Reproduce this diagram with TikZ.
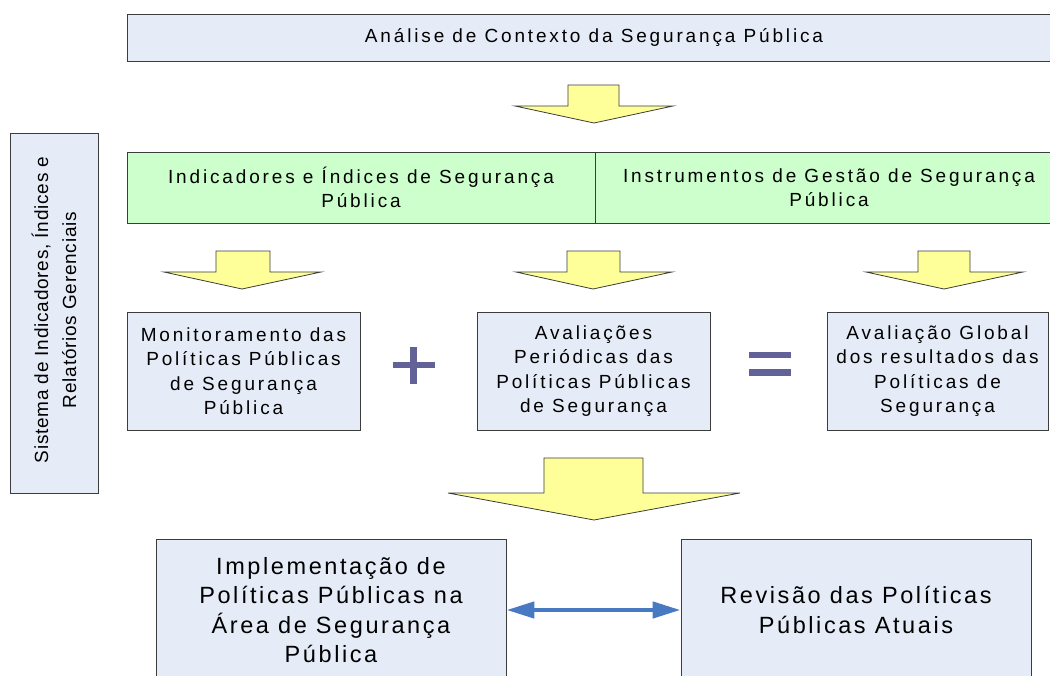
\documentclass[tikz,border=0pt]{standalone}
\usepackage{fontspec}
\setmainfont{Liberation Sans}
\newfontfamily\fa{Liberation Sans}[LetterSpace=15]
\newfontfamily\fb{Liberation Sans}[LetterSpace=11]
\newfontfamily\fc{Liberation Sans}[LetterSpace=4]
\usetikzlibrary{arrows.meta}
\definecolor{boxfill}{RGB}{230,236,247}
\definecolor{greenfill}{RGB}{204,255,204}
\definecolor{arrowfill}{RGB}{255,255,153}
\definecolor{edgecol}{RGB}{60,60,60}
\definecolor{mathcol}{RGB}{98,98,152}
\definecolor{linkcol}{RGB}{72,122,196}
\tikzset{
  box/.style={draw=edgecol, line width=0.9pt, fill=boxfill, inner sep=0pt, align=center},
  greenbox/.style={box, fill=greenfill},
  txtmid/.style={font=\fa\fontsize{19}{24.5}\selectfont},
  txtbig/.style={font=\fb\fontsize{23.5}{29.5}\selectfont},
  txtside/.style={font=\fc\fontsize{19}{28}\selectfont},
  blockarrow/.style={draw=edgecol, line width=0.8pt, fill=arrowfill, line join=miter},
  mathsign/.style={fill=mathcol},
  link/.style={draw=linkcol, line width=4.5pt, {Triangle[length=28pt,width=16pt]}-{Triangle[length=28pt,width=16pt]}}
}
\begin{document}
\begin{tikzpicture}[x=1pt,y=-1pt]
\useasboundingbox (0,0) rectangle (1050,675);
\clip (0,0) rectangle (1050,675);

% top context box
\node[box, txtmid, minimum width=934pt, minimum height=47pt] (ctx) at (594,37.5)
  {Análise de Contexto da Segurança Pública};

% first arrow
\path[blockarrow] (568,85) -- (619,85) -- (619,106) -- (673,106) -- (594,123) -- (515,106) -- (568,106) -- cycle;

% green band
\node[greenbox, txtmid, minimum width=468pt, minimum height=71pt] (ind) at (361,187.5)
  {Indicadores e Índices de Segurança\\Pública};
\node[greenbox, txtmid, minimum width=468pt, minimum height=71pt] (ins) at (829,187.5)
  {Instrumentos de Gestão de Segurança\\Pública};

% left vertical box
\node[box, minimum width=88pt, minimum height=360pt] (side) at (54,313) {};
\node[txtside, rotate=90, align=center] (sidetxt) at (54,310)
  {Sistema de Indicadores, Índices e\\Relatórios Gerenciais};

% row 2 arrows
\path[blockarrow] (216,251) -- (270,251) -- (270,272) -- (321,272) -- (242,289) -- (164,272) -- (216,272) -- cycle;
\path[blockarrow] (567,251) -- (620,251) -- (620,272) -- (672,272) -- (593,289) -- (516,272) -- (567,272) -- cycle;
\path[blockarrow] (918,251) -- (970,251) -- (970,272) -- (1023,272) -- (944,289) -- (866,272) -- (918,272) -- cycle;

% row 3 boxes
\node[box, txtmid, minimum width=233pt, minimum height=118pt] (mon) at (243.5,371)
  {Monitoramento das\\Políticas Públicas\\de Segurança\\Pública};
\node[box, txtmid, minimum width=233pt, minimum height=118pt] (ava) at (593.5,371)
  {Avaliações\\Periódicas das\\Políticas Públicas\\de Segurança};
\node[box, txtmid, minimum width=221pt, minimum height=118pt] (glo) at (937.5,371)
  {Avaliação Global\\dos resultados das\\Políticas de\\Segurança};

% plus and equal signs
\fill[mathsign] (393,362) rectangle (435,368);
\fill[mathsign] (410,347) rectangle (417,384);
\fill[mathsign] (749,352) rectangle (791,358);
\fill[mathsign] (749,369) rectangle (791,376);

% big arrow
\path[blockarrow] (544,458) -- (643,458) -- (643,493) -- (740,493) -- (594,520) -- (448,493) -- (544,493) -- cycle;

% bottom boxes
\node[box, txtbig, minimum width=350pt, minimum height=142pt] (imp) at (331,610)
  {Implementação de\\Políticas Públicas na\\Área de Segurança\\Pública};
\node[box, txtbig, minimum width=350pt, minimum height=142pt] (rev) at (856,610)
  {Revisão das Políticas\\Públicas Atuais};

\draw[link] (imp.east) -- (rev.west);
\end{tikzpicture}
\end{document}
